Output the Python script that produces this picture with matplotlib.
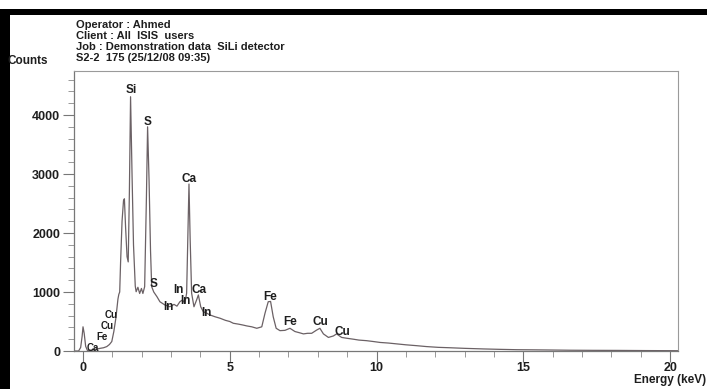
"""
EDS spectrum (SiLi detector demo data) redrawn with matplotlib.
"""

import matplotlib
matplotlib.use('Agg')
import matplotlib.pyplot as plt
from matplotlib.patches import Rectangle
from matplotlib.ticker import MultipleLocator

# spectrum: energy (keV) and counts
energy_kev = [-0.30, -0.15, -0.08, -0.03, 0.00, 0.04, 0.09, 0.15, 0.30, 0.45,
              0.58, 0.70, 0.81, 0.90, 0.98, 1.05, 1.12, 1.19, 1.22, 1.25,
              1.28, 1.33, 1.38, 1.41, 1.45, 1.50, 1.54, 1.58, 1.62, 1.67,
              1.72, 1.78, 1.81, 1.87, 1.93, 1.99, 2.04, 2.10, 2.16, 2.20,
              2.25, 2.30, 2.34, 2.41, 2.52, 2.62, 2.79, 2.96, 3.10, 3.20,
              3.30, 3.39, 3.47, 3.53, 3.57, 3.61, 3.65, 3.70, 3.78, 3.87,
              3.93, 4.01, 4.10, 4.22, 4.33, 4.50, 4.67, 4.85, 5.00, 5.12,
              5.30, 5.45, 5.58, 5.75, 5.92, 6.09, 6.20, 6.31, 6.39, 6.48,
              6.58, 6.71, 6.88, 7.05, 7.22, 7.37, 7.51, 7.65, 7.79, 7.96,
              8.07, 8.19, 8.36, 8.53, 8.64, 8.81, 9.00, 9.21, 9.40, 9.66,
              9.90, 10.12, 10.40, 10.70, 11.00, 11.37, 11.70, 12.10, 12.50, 13.00,
              13.64, 14.20, 14.78, 15.30, 15.90, 16.60, 17.40, 18.20, 19.20, 20.25]
counts = [0, 0, 60, 250, 410, 300, 80, 10, 15, 30,
          45, 55, 75, 110, 160, 330, 560, 880, 960, 1000,
          1500, 2200, 2550, 2580, 2100, 1600, 1510, 2700, 4310, 3000,
          1800, 1100, 1005, 1080, 975, 1060, 975, 1090, 2600, 3800,
          2900, 1700, 1090, 1000, 920, 835, 780, 750, 790, 760,
          835, 865, 810, 980, 1900, 2830, 1900, 980, 750, 865,
          950, 750, 665, 640, 610, 580, 555, 520, 500, 470,
          455, 440, 425, 410, 385, 410, 640, 835, 840, 580,
          385, 345, 350, 385, 330, 310, 290, 300, 300, 355,
          385, 290, 230, 255, 290, 230, 215, 200, 185, 175,
          160, 145, 135, 120, 105, 90, 75, 62, 55, 45,
          35, 28, 22, 20, 17, 13, 11, 10, 7, 5]

# peak identifications and where their labels sit (keV, counts)
peak_names = ["Si", "S", "Ca", "S", "In", "In", "In", "Ca", "In",
              "Fe", "Fe", "Cu", "Cu"]
peak_label_e = [1.64, 2.21, 3.61, 2.42, 2.90, 3.24, 3.48, 3.95, 4.22,
                6.37, 7.05, 8.07, 8.82]
peak_label_c = [4424, 3881, 2915, 1136, 746, 1034, 848, 1034, 644,
                915, 492, 492, 322]
# the crowded stack of low-energy L lines next to the noise peak
low_names = ["Ca", "Fe", "Cu", "Cu"]
low_label_e = [0.34, 0.65, 0.82, 0.95]
low_label_c = [55, 240, 430, 615]

header_lines = ["Operator : Ahmed",
                "Client : All  ISIS  users",
                "Job : Demonstration data  SiLi detector",
                "S2-2  175 (25/12/08 09:35)"]

x_major = [0, 5, 10, 15, 20]
y_major = [0, 1000, 2000, 3000, 4000]

FONT = ['Liberation Sans', 'DejaVu Sans']
LINE_COL = '#6b6165'
TXT_COL = '#1e1e1e'

W, H = 707, 389
fig = plt.figure(figsize=(W / 100, H / 100), dpi=100)
fig.patch.set_facecolor('white')

ax = fig.add_axes([74 / W, (H - 351) / H, (678 - 74) / W, (351 - 71) / H])
ax.plot(energy_kev, counts, color=LINE_COL, linewidth=0.9)
ax.set_xlim(-0.307, 20.27)
ax.set_ylim(0, 4746)

for name, e, c in zip(peak_names, peak_label_e, peak_label_c):
    ax.text(e, c, name, ha='center', va='center', fontsize=8.5,
            fontweight='bold', color=TXT_COL, family=FONT)
for name, e, c in zip(low_names, low_label_e, low_label_c):
    ax.text(e, c, name, ha='center', va='center', fontsize=7,
            fontweight='bold', color=TXT_COL, family=FONT)

ax.set_xticks(x_major)
ax.set_xticklabels([str(v) for v in x_major])
ax.xaxis.set_minor_locator(MultipleLocator(1))
ax.set_yticks(y_major)
ax.set_yticklabels([str(v) for v in y_major])
ax.yaxis.set_minor_locator(MultipleLocator(200))
ax.tick_params(axis='both', which='major', direction='out', length=8,
               width=0.8, color='#777777', labelsize=9, labelcolor=TXT_COL)
ax.tick_params(axis='both', which='minor', direction='out', length=4,
               width=0.6, color='#888888')
ax.tick_params(axis='y', pad=2)
ax.tick_params(axis='x', pad=0)
for lab in ax.get_xticklabels() + ax.get_yticklabels():
    lab.set_fontweight('bold')
    lab.set_family(FONT)

for side in ['left', 'bottom']:
    ax.spines[side].set_color('#777777')
    ax.spines[side].set_linewidth(0.9)
for side in ['top', 'right']:
    ax.spines[side].set_color('#9a9a9a')
    ax.spines[side].set_linewidth(0.8)

# header block and axis captions
for i, line in enumerate(header_lines):
    fig.text(76 / W, 1 - (25 + 11 * i) / H, line, ha='left', va='center',
             fontsize=8, fontweight='bold', color=TXT_COL, family=FONT)
fig.text(8 / W, 1 - 61 / H, "Counts", ha='left', va='center',
         fontsize=8.5, fontweight='bold', color=TXT_COL, family=FONT)
fig.text(706 / W, 1 - 380 / H, "Energy (keV)", ha='right', va='center',
         fontsize=8.5, fontweight='bold', color=TXT_COL, family=FONT)

# black frame along the top and left edges of the scan
fig.patches.append(Rectangle((0, 1 - 15 / H), 1, 6 / H, transform=fig.transFigure,
                             facecolor='black', edgecolor='none'))
fig.patches.append(Rectangle((0, 0), 10 / W, 1 - 9 / H, transform=fig.transFigure,
                             facecolor='black', edgecolor='none'))

fig.savefig('out.png', dpi=100)
